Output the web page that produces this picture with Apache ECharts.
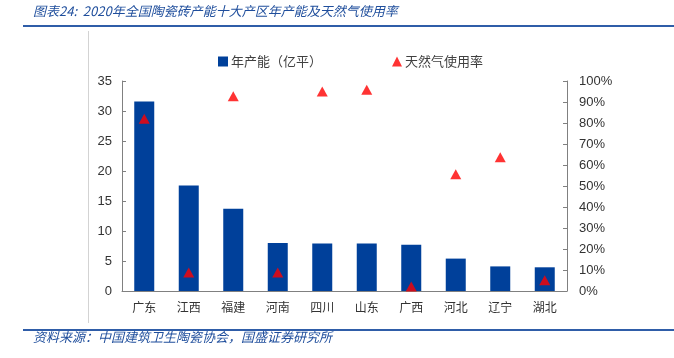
<!DOCTYPE html>
<html><head><meta charset="utf-8">
<script src="https://cdn.jsdelivr.net/npm/echarts@6/dist/echarts.min.js"></script>
<style>html,body{margin:0;padding:0;background:#fff}#c{width:674px;height:358px}</style>
</head><body><div id="c"></div>
<script>
const categories = ['广东','江西','福建','河南','四川','山东','广西','河北','辽宁','湖北'];
const capacity = [31.6, 17.6, 13.7, 8.0, 7.9, 7.9, 7.7, 5.4, 4.1, 3.95];
const gasRate = [82, 8.8, 92.7, 8.8, 95, 95.8, 2.2, 55.6, 63.7, 5.1];
const leftTicks = [0, 35, 5];
const rightTicks = [0, 100, 10];
const titleText = '图表24:  2020年全国陶瓷砖产能十大产区年产能及天然气使用率';
const sourceText = '资料来源：中国建筑卫生陶瓷协会，国盛证券研究所';

const chart = echarts.init(document.getElementById('c'));
const lab = {color:'#333', fontSize:13, fontFamily:'Liberation Sans, Arial, sans-serif'};
chart.setOption({
  backgroundColor:'#fff',
  animation:false,
  graphic:[
    {type:'text', left:33, top:5, style:{text:titleText, fill:'#1F4E9C', font:'italic 13px "Noto Sans CJK SC", sans-serif'}},
    {type:'line', shape:{x1:23,y1:26,x2:674,y2:26}, style:{stroke:'#2F5DA8', lineWidth:2}},
    {type:'line', shape:{x1:88.5,y1:31,x2:88.5,y2:323}, style:{stroke:'#D3D3D3', lineWidth:1}},
    {type:'line', shape:{x1:23,y1:330,x2:674,y2:330}, style:{stroke:'#2F5DA8', lineWidth:2}},
    {type:'text', left:33, top:331, style:{text:sourceText, fill:'#1F4E9C', font:'italic 13px "Noto Sans CJK SC", sans-serif'}}
  ],
  legend:{
    left:213, top:50, itemWidth:10, itemHeight:10, itemGap:70,
    textStyle:{color:'#404040', fontSize:13, fontFamily:'"Noto Sans CJK SC", sans-serif', padding:[0,0,0,-2]},
    data:[{name:'年产能（亿平）', icon:'rect'}, {name:'天然气使用率', icon:'triangle'}]
  },
  grid:{left:122, right:107, top:81, bottom:67},
  xAxis:{
    type:'category', data:categories,
    axisLine:{lineStyle:{color:'#808080'}},
    axisTick:{inside:true, length:4, lineStyle:{color:'#808080'}},
    axisLabel:{color:'#333', fontSize:12, margin:10, fontFamily:'"Noto Sans CJK SC", sans-serif'}
  },
  yAxis:[
    {type:'value', min:leftTicks[0], max:leftTicks[1], interval:leftTicks[2],
     axisLine:{show:true, lineStyle:{color:'#808080'}},
     axisTick:{show:true, inside:true, length:4, lineStyle:{color:'#808080'}},
     splitLine:{show:false},
     axisLabel:Object.assign({margin:10}, lab)},
    {type:'value', min:rightTicks[0], max:rightTicks[1], interval:rightTicks[2], position:'right',
     axisLine:{show:true, lineStyle:{color:'#808080'}},
     axisTick:{show:true, inside:true, length:4, lineStyle:{color:'#808080'}},
     splitLine:{show:false},
     axisLabel:Object.assign({margin:12, formatter:'{value}%'}, lab)}
  ],
  series:[
    {name:'年产能（亿平）', type:'bar', data:capacity, barWidth:20, itemStyle:{color:'#00409A'}},
    {name:'天然气使用率', type:'scatter', yAxisIndex:1, data:gasRate, symbol:'triangle', symbolSize:[11,10], itemStyle:{color:'#FF0000'}}
  ]
});
</script></body></html>
